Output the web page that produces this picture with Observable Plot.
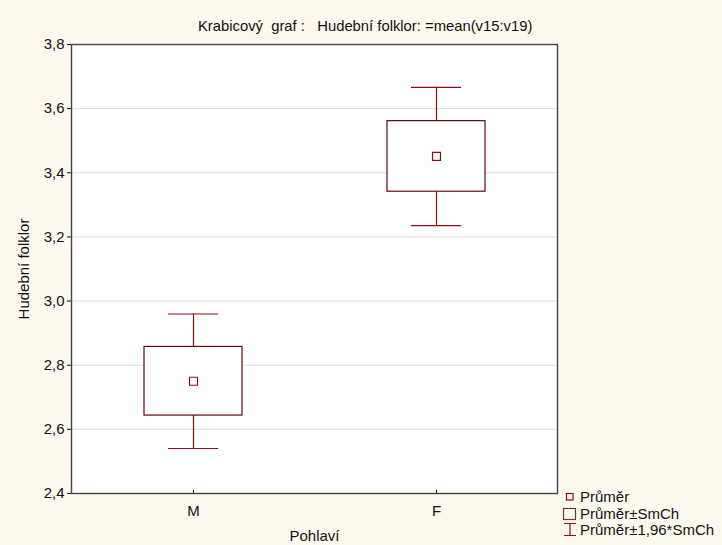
<!DOCTYPE html>
<html>
<head>
<meta charset="utf-8">
<script src="https://cdn.jsdelivr.net/npm/d3@7"></script>
<script src="https://cdn.jsdelivr.net/npm/@observablehq/plot@0.6"></script>
<style>
  html, body { margin: 0; padding: 0; background: #fdf9ef; }
  #chart { width: 722px; height: 545px; }
</style>
</head>
<body>
<div id="chart"></div>
<script>
// Hudební folklor by gender: mean, standard error (SmCh)
const groups = ["M", "F"];
const means = [2.75, 3.451];
const stdErrors = [0.107, 0.110];
const yTicks = [2.4, 2.6, 2.8, 3.0, 3.2, 3.4, 3.6, 3.8];

const titleText = "Krabicový  graf :   Hudební folklor: =mean(v15:v19)";
const xLabel = "Pohlaví";
const yLabel = "Hudební folklor";
const legendLabels = ["Průměr", "Průměr±SmCh", "Průměr±1,96*SmCh"];

const rows = groups.map((g, i) => ({
  group: g,
  mean: means[i],
  lo: means[i] - stdErrors[i],
  hi: means[i] + stdErrors[i],
  ciLo: means[i] - 1.96 * stdErrors[i],
  ciHi: means[i] + 1.96 * stdErrors[i]
}));

const red = "#8b0e12";
const comma = d => d3.format(".1f")(d).replace(".", ",");

const chart = Plot.plot({
  width: 722,
  height: 545,
  marginLeft: 71,
  marginRight: 165,
  marginTop: 44,
  marginBottom: 52,
  style: { fontFamily: "'Liberation Sans', Arial, sans-serif", fontSize: "15px", background: "#fdf9ef", color: "#111" },
  x: { type: "band", domain: groups, paddingInner: 0.597, paddingOuter: 0.2985 },
  y: { domain: [2.4, 3.8] },
  marks: [
    Plot.frame({ fill: "white", stroke: null }),
    Plot.gridY(yTicks.slice(1, -1), { stroke: "#dcdcdc", strokeOpacity: 1 }),
    Plot.axisY({ ticks: yTicks, tickSize: 4, tickPadding: 3, tickFormat: comma,
                 label: yLabel, labelAnchor: "center", labelOffset: 53, labelArrow: false }),
    Plot.axisX({ tickSize: 0, tickPadding: 12, label: xLabel, labelAnchor: "center", labelOffset: 47, labelArrow: false }),
    Plot.axisX({ tickSize: 3, dy: -3, tickFormat: () => "", label: null }),
    Plot.ruleX(rows, { x: "group", y1: "ciLo", y2: "ciHi", stroke: red, strokeWidth: 1.2 }),
    Plot.tickY(rows, { x: "group", y: "ciHi", stroke: red, strokeWidth: 1.2, insetLeft: 24, insetRight: 24 }),
    Plot.tickY(rows, { x: "group", y: "ciLo", stroke: red, strokeWidth: 1.2, insetLeft: 24, insetRight: 24 }),
    Plot.barY(rows, { x: "group", y1: "lo", y2: "hi", fill: "white", stroke: "#5e0a10", strokeWidth: 1.2 }),
    Plot.dot(rows, { x: "group", y: "mean", symbol: "square", r: 4.5, fill: "white", stroke: red, strokeWidth: 1.2 }),
    Plot.frame({ stroke: "#444", strokeWidth: 1.4 })
  ]
});

document.getElementById("chart").appendChild(chart);

// Title and legend drawn into the same SVG
const svg = d3.select(chart);
svg.append("text")
  .attr("x", 198).attr("y", 31)
  .attr("text-anchor", "start")
  .attr("fill", "#111")
  .style("font-size", "14.8px")
  .style("white-space", "pre")
  .attr("xml:space", "preserve")
  .text(titleText);

const lg = svg.append("g").attr("fill", "none");
// mean marker
lg.append("rect").attr("x", 566.5).attr("y", 493.5).attr("width", 6.5).attr("height", 6.5)
  .attr("stroke", red).attr("stroke-width", 1.2);
// box
lg.append("rect").attr("x", 563.5).attr("y", 508.5).attr("width", 12).attr("height", 11)
  .attr("stroke", "#5a4040").attr("stroke-width", 1.2);
// whisker
lg.append("path").attr("d", "M564,523.5H576M570,523.5V535.5M564,535.5H576")
  .attr("stroke", red).attr("stroke-width", 1.2);

legendLabels.forEach((t, i) => {
  svg.append("text")
    .attr("x", 580).attr("y", 502 + i * 16.5)
    .attr("text-anchor", "start")
    .attr("fill", "#111")
    .text(t);
});
</script>
</body>
</html>
